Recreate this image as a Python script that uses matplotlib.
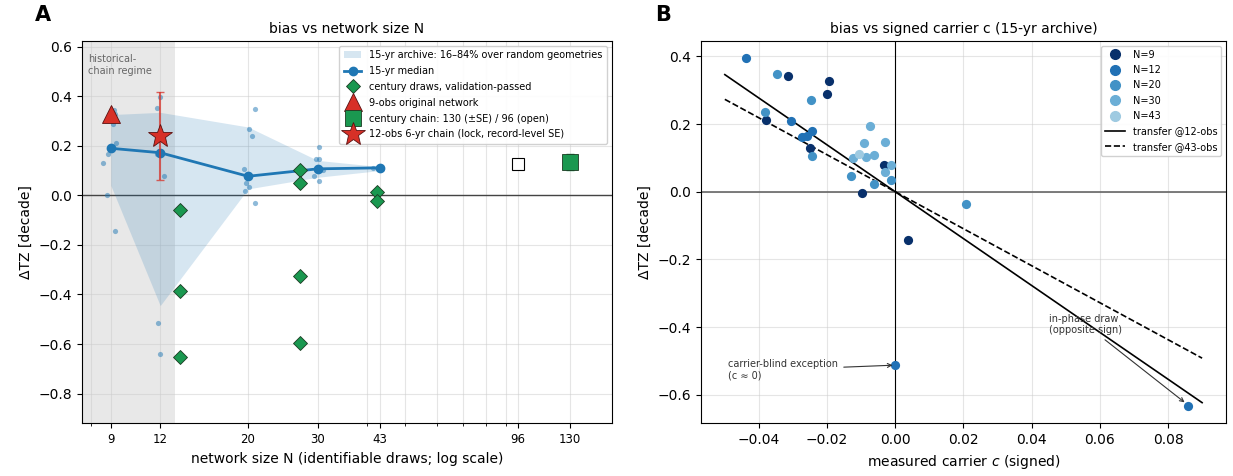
import numpy as np
import matplotlib
matplotlib.use("Agg")
import matplotlib.pyplot as plt
from matplotlib.ticker import NullFormatter
from matplotlib.lines import Line2D
from matplotlib.patches import Patch

# ---- panel A data: bias vs network size N ----
sizes = [9, 12, 20, 30, 43]
median = [0.19, 0.172, 0.077, 0.107, 0.111]
band_hi = [0.326, 0.335, 0.276, 0.141, 0.116]
band_lo = [0.04, -0.445, 0.026, 0.073, 0.100]

geo_n = [9.17, 9.2, 9.1, 9.3, 8.85, 8.6, 8.8, 9.2,
         12.0, 11.8, 11.8, 12.05, 12.3, 11.85, 12.0,
         20.8, 20.1, 20.5, 19.5, 19.8, 20.1, 19.6, 20.8,
         30.2, 29.7, 30.2, 30.0, 31.0, 29.3, 30.2,
         41.5, 43.5]
geo_bias = [0.344, 0.33, 0.289, 0.212, 0.168, 0.13, 0.0, -0.145,
            0.398, 0.353, 0.165, 0.17, 0.077, -0.515, -0.64,
            0.35, 0.268, 0.24, 0.107, 0.049, 0.033, 0.018, -0.032,
            0.195, 0.145, 0.147, 0.11, 0.103, 0.077, 0.057,
            0.111, 0.108]

century_n = [13.5, 13.5, 13.5, 27, 27, 27, 27, 42.4, 42.4]
century_bias = [-0.058, -0.388, -0.654, 0.104, 0.05, -0.325, -0.596, 0.012, -0.021]

orig_n, orig_bias = 9, 0.33
chain12_n, chain12_bias, chain12_se = 12, 0.238, 0.178
chain_open_n, chain_open_bias = 96, 0.125
chain_n, chain_bias, chain_se = 130, 0.134, 0.033

xticks_a = [9, 12, 20, 30, 43, 96, 130]

# ---- panel B data: bias vs signed carrier ----
carrier = {
    9: [-0.0316, -0.0193, -0.0201, -0.0378, -0.0251, -0.0098, 0.0036, -0.0034],
    12: [-0.0439, -0.0306, -0.0243, -0.0275, -0.0259, 0.0, 0.0859],
    20: [-0.0346, -0.0248, -0.0381, -0.0244, -0.0013, -0.0131, -0.0063, 0.0207],
    30: [-0.0075, -0.0091, -0.0031, -0.0123, -0.0086, -0.0061, -0.0013, -0.0031],
    43: [-0.0107],
}
bias_c = {
    9: [0.342, 0.328, 0.288, 0.212, 0.128, -0.003, -0.142, 0.078],
    12: [0.394, 0.210, 0.180, 0.163, 0.165, -0.512, -0.6325],
    20: [0.349, 0.270, 0.237, 0.105, 0.034, 0.048, 0.022, -0.035],
    30: [0.194, 0.143, 0.147, 0.100, 0.102, 0.109, 0.078, 0.059],
    43: [0.111],
}
n_colors = ['#08306b', '#2171b5', '#4292c6', '#6baed6', '#9ecae1']
c_line = [-0.05, 0.09]
slope12 = -6.92
slope43 = -5.46

red = '#d73027'
green = '#1a9850'

fig = plt.figure(figsize=(12.33, 4.76), dpi=100)
axA = fig.add_axes([0.0663, 0.1107, 0.4298, 0.8032])
axB = fig.add_axes([0.5685, 0.1107, 0.4258, 0.8032])

# ----- A -----
ax = axA
ax.set_xscale('log')
ax.set_xlim(7.6, 166)
ax.set_ylim(-0.92, 0.623)
ax.axvspan(7.6, 13.1, color='#d9d9d9', alpha=0.6, zorder=0, lw=0)
ax.text(0.012, 0.965, 'historical-\nchain regime', transform=ax.transAxes,
        va='top', ha='left', fontsize=7, color='#666666')
ax.axhline(0, color='#444444', lw=1, zorder=1)
ax.fill_between(sizes, band_lo, band_hi, color='#1f77b4', alpha=0.18, lw=0,
                zorder=1)
ax.scatter(geo_n, geo_bias, s=14, color='#1f77b4', alpha=0.5, lw=0, zorder=2)
ax.plot(sizes, median, '-o', color='#1f77b4', lw=2, ms=6, zorder=3)
ax.plot(century_n, century_bias, 'D', color=green, mec='#1b3a22', mew=0.6,
        ms=7, ls='none', zorder=4)
ax.plot([orig_n], [orig_bias], '^', color=red, mec='#5a1010', mew=0.6, ms=13,
        zorder=5)
ax.errorbar([chain12_n], [chain12_bias], yerr=[chain12_se], fmt='none',
            ecolor=red, elinewidth=1.5, capsize=3, alpha=0.75, zorder=4)
ax.plot([chain12_n], [chain12_bias], '*', color=red, mec='#5a1010', mew=0.6,
        ms=18, zorder=6)
ax.plot([chain_open_n], [chain_open_bias], 's', mfc='white', mec='k',
        mew=0.8, ms=8, zorder=5)
ax.errorbar([chain_n], [chain_bias], yerr=[chain_se], fmt='none',
            ecolor=green, elinewidth=1.2, capsize=3, zorder=4)
ax.plot([chain_n], [chain_bias], 's', color=green, mec='#1b3a22', mew=0.6,
        ms=11, zorder=5)

ax.set_xticks(xticks_a)
ax.set_xticklabels([str(v) for v in xticks_a])
ax.xaxis.set_minor_formatter(NullFormatter())
ax.tick_params(axis='x', which='major', labelsize=8.5)
ax.tick_params(axis='y', labelsize=10)
ax.grid(True, which='both', color='#cccccc', alpha=0.5, lw=0.8)
ax.set_axisbelow(True)
ax.set_xlabel('network size N (identifiable draws; log scale)', fontsize=10)
ax.set_ylabel('ΔTZ [decade]', fontsize=10)
ax.set_title('bias vs network size N', fontsize=10)

handlesA = [
    Patch(facecolor='#1f77b4', alpha=0.18, label='15-yr archive: 16–84% over random geometries'),
    Line2D([], [], color='#1f77b4', lw=2, marker='o', ms=6, label='15-yr median'),
    Line2D([], [], ls='none', marker='D', color=green, mec='#1b3a22', mew=0.6, ms=7,
           label='century draws, validation-passed'),
    Line2D([], [], ls='none', marker='^', color=red, mec='#5a1010', mew=0.6, ms=13,
           label='9-obs original network'),
    Line2D([], [], ls='none', marker='s', color=green, mec='#1b3a22', mew=0.6, ms=11,
           label='century chain: 130 (±SE) / 96 (open)'),
    Line2D([], [], ls='none', marker='*', color=red, mec='#5a1010', mew=0.6, ms=18,
           label='12-obs 6-yr chain (lock, record-level SE)'),
]
ax.legend(handles=handlesA, loc='upper right', fontsize=7, framealpha=0.9,
          labelspacing=0.6, handlelength=1.8, handletextpad=0.8, borderpad=0.45)

# ----- B -----
ax = axB
ax.axhline(0, color='#666666', lw=1.2, zorder=1)
ax.axvline(0, color='k', lw=0.8, zorder=1)
handlesB = []
for n, col in zip(sizes, n_colors):
    ax.scatter(carrier[n], bias_c[n], s=44, color=col, lw=0, zorder=3)
    handlesB.append(Line2D([], [], ls='none', marker='o', ms=7, color=col,
                           label=f'N={n}'))
ax.plot(c_line, [slope12 * c for c in c_line], color='k', lw=1.2, zorder=2)
ax.plot(c_line, [slope43 * c for c in c_line], color='k', lw=1.2, ls='--',
        zorder=2)
handlesB.append(Line2D([], [], color='k', lw=1.2, label='transfer @12-obs'))
handlesB.append(Line2D([], [], color='k', lw=1.2, ls='--', label='transfer @43-obs'))
ax.legend(handles=handlesB, loc='upper right', fontsize=7, framealpha=0.9,
          labelspacing=0.55)

ax.annotate('carrier-blind exception\n(c ≈ 0)', xy=(0.0, -0.512),
            xytext=(-0.049, -0.525), ha='left', va='center', fontsize=7,
            color='#333333',
            arrowprops=dict(arrowstyle='->', color='#333333', lw=0.8))
ax.annotate('in-phase draw\n(opposite sign)', xy=(0.0855, -0.627),
            xytext=(0.0451, -0.392), ha='left', va='center', fontsize=7,
            color='#333333',
            arrowprops=dict(arrowstyle='->', color='#333333', lw=0.8))

ax.grid(True, color='#cccccc', alpha=0.5, lw=0.8)
ax.set_axisbelow(True)
ax.tick_params(labelsize=10)
ax.set_xlabel('measured carrier $c$ (signed)', fontsize=10)
ax.set_ylabel('ΔTZ [decade]', fontsize=10)
ax.set_title('bias vs signed carrier c (15-yr archive)', fontsize=10)

fig.text(0.028, 0.968, 'A', fontsize=15, fontweight='bold', va='center')
fig.text(0.531, 0.968, 'B', fontsize=15, fontweight='bold', va='center')

fig.savefig('out.png', dpi=100)
